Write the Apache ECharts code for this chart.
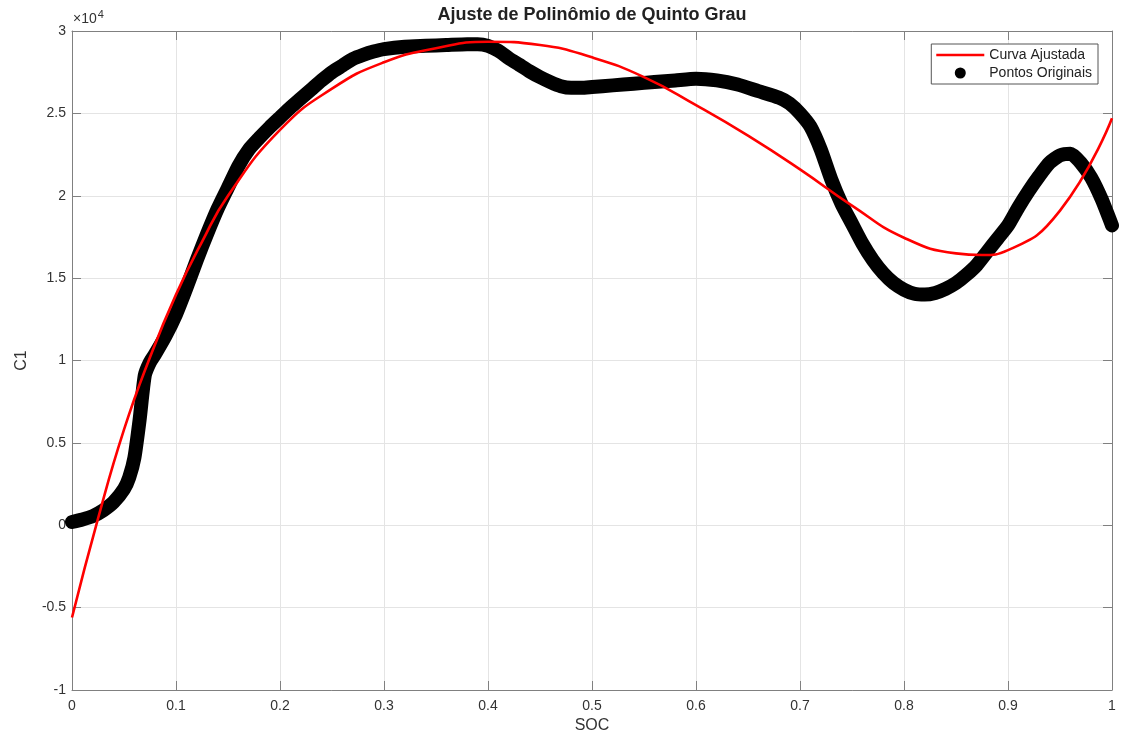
<!DOCTYPE html>
<html>
<head>
<meta charset="utf-8">
<title>Ajuste de Polinômio de Quinto Grau</title>
<script src="https://cdn.jsdelivr.net/npm/echarts@6/dist/echarts.min.js"></script>
<style>
  html, body { margin: 0; padding: 0; background: #fff; }
  #chart { width: 1122px; height: 739px; }
</style>
</head>
<body>
<div id="chart"></div>
<script>
// --- dados (C1 em unidades reais) ---
const socOrig = [0, 0.01, 0.02, 0.03, 0.04, 0.05, 0.055, 0.06, 0.065, 0.07, 0.075, 0.08, 0.09, 0.1,
  0.11, 0.12, 0.13, 0.14, 0.15, 0.16, 0.17, 0.18, 0.19, 0.2, 0.21, 0.22, 0.23, 0.24, 0.25, 0.26,
  0.27, 0.28, 0.29, 0.3, 0.32, 0.34, 0.36, 0.38, 0.39, 0.4, 0.41, 0.42, 0.43, 0.44, 0.45, 0.46,
  0.47, 0.48, 0.49, 0.5, 0.52, 0.54, 0.56, 0.58, 0.6, 0.62, 0.64, 0.66, 0.68, 0.69, 0.7, 0.71,
  0.72, 0.73, 0.74, 0.75, 0.76, 0.77, 0.78, 0.79, 0.8, 0.81, 0.82, 0.83, 0.84, 0.85, 0.86, 0.87,
  0.88, 0.89, 0.9, 0.91, 0.92, 0.93, 0.94, 0.95, 0.96, 0.97, 0.98, 0.99, 1.0];
const c1Orig = [200, 350, 550, 900, 1400, 2200, 2900, 4100, 6400, 9100, 9900, 10400, 11500, 12800,
  14400, 16100, 17700, 19200, 20500, 21800, 22800, 23500, 24150, 24750, 25350, 25900, 26450, 27000, 27500, 27900,
  28300, 28550, 28750, 28900, 29050, 29100, 29150, 29200, 29200, 29100, 28800, 28350, 27950, 27550, 27200, 26900,
  26650, 26550, 26550, 26600, 26700, 26800, 26900, 27000, 27100, 27000, 26750, 26350, 25950, 25600, 25000, 24200,
  22800, 21000, 19500, 18300, 17100, 16100, 15300, 14700, 14300, 14050, 14000, 14100, 14350, 14700, 15200, 15800,
  16600, 17400, 18200, 19300, 20300, 21200, 22000, 22450, 22550, 22000, 21100, 19800, 18200];

const socFit = [0, 0.025, 0.05, 0.075, 0.1, 0.125, 0.15, 0.2, 0.25, 0.3, 0.35, 0.4, 0.45, 0.5, 0.55, 0.6,
  0.65, 0.7, 0.75, 0.8, 0.85, 0.875, 0.9, 0.95, 1.0];
const c1Fit = [-5600, 400, 5800, 10200, 14000, 17200, 20000, 24000, 26500, 28100, 28950, 29350, 29150, 28400, 27200, 25500,
  23650, 21600, 19400, 17450, 16500, 16400, 16700, 19100, 24700];

const xTicks = [0, 0.1, 0.2, 0.3, 0.4, 0.5, 0.6, 0.7, 0.8, 0.9, 1];
const yTicks = [-10000, -5000, 0, 5000, 10000, 15000, 20000, 25000, 30000];

const chart = echarts.init(document.getElementById('chart'));

const axisGray = '#808080';
const gridGray = '#e4e4e4';
const labelColor = '#333';
const fontFam = '"Liberation Sans", Arial, sans-serif';

const baseX = {
  type: 'value', min: xTicks[0], max: xTicks[xTicks.length - 1], interval: 0.1,
  axisLine: { show: true, onZero: false, lineStyle: { color: axisGray, width: 1 } },
  axisTick: { show: true, inside: true, length: 9, lineStyle: { color: axisGray } }
};
const baseY = {
  type: 'value', min: yTicks[0], max: yTicks[yTicks.length - 1], interval: 5000,
  axisLine: { show: true, onZero: false, lineStyle: { color: axisGray, width: 1 } },
  axisTick: { show: true, inside: true, length: 9, lineStyle: { color: axisGray } }
};

const option = {
  backgroundColor: '#fff',
  animation: false,
  grid: { left: 72, right: 10, top: 31, bottom: 49 },
  legend: {
    orient: 'vertical', right: 24, top: 44,
    padding: [3, 6, 3, 5], itemGap: 2, itemWidth: 48, itemHeight: 11,
    backgroundColor: '#fff', borderColor: '#555', borderWidth: 1, borderRadius: 0,
    textStyle: { fontSize: 14, color: '#222', fontFamily: fontFam, lineHeight: 16 },
    data: [
      { name: 'Curva Ajustada', icon: 'path://M0,0 L48,0 L48,2.6 L0,2.6 Z' },
      { name: 'Pontos Originais', icon: 'circle' }
    ]
  },
  graphic: [
    {
      type: 'text', x: 592, y: 15,
      style: { text: 'Ajuste de Polinômio de Quinto Grau', font: 'bold 18px ' + fontFam,
        fill: '#222', align: 'center', verticalAlign: 'middle' }
    },
    {
      type: 'text', x: 73, y: 19,
      style: {
        text: '×10{s|4}', verticalAlign: 'middle', align: 'left',
        font: '14px ' + fontFam, fill: labelColor,
        rich: { s: { fontSize: 11, verticalAlign: 'top', padding: [0, 0, 8, 1], fill: labelColor } }
      }
    }
  ],
  xAxis: [
    Object.assign({}, baseX, {
      position: 'bottom',
      name: 'SOC', nameLocation: 'middle', nameGap: 28,
      nameTextStyle: { fontSize: 16, color: labelColor, fontFamily: fontFam },
      axisLabel: { fontSize: 14, color: labelColor, fontFamily: fontFam, margin: 9,
        formatter: v => String(parseFloat(v.toFixed(1))) },
      splitLine: { show: true, lineStyle: { color: gridGray, width: 1 } }
    }),
    Object.assign({}, baseX, {
      position: 'top', axisLabel: { show: false }, splitLine: { show: false }
    })
  ],
  yAxis: [
    Object.assign({}, baseY, {
      position: 'left',
      name: 'C1', nameLocation: 'middle', nameGap: 42,
      nameTextStyle: { fontSize: 16, color: labelColor, fontFamily: fontFam },
      axisLabel: { fontSize: 14, color: labelColor, fontFamily: fontFam, margin: 6,
        formatter: v => String(v / 10000) },
      splitLine: { show: true, lineStyle: { color: gridGray, width: 1 } }
    }),
    Object.assign({}, baseY, {
      position: 'right', axisLabel: { show: false }, splitLine: { show: false }
    })
  ],
  series: [
    {
      name: 'Pontos Originais', type: 'line', xAxisIndex: 0, yAxisIndex: 0,
      data: socOrig.map((x, i) => [x, c1Orig[i]]),
      smooth: 0.2, showSymbol: false, symbol: 'circle', z: 2,
      color: '#000',
      lineStyle: { color: '#000', width: 14, cap: 'round', join: 'round' }
    },
    {
      name: 'Curva Ajustada', type: 'line', xAxisIndex: 0, yAxisIndex: 0,
      data: socFit.map((x, i) => [x, c1Fit[i]]),
      smooth: 0.5, showSymbol: false, z: 3,
      color: '#ff0000',
      lineStyle: { color: '#ff0000', width: 2.6 }
    }
  ]
};

chart.setOption(option);

window.addEventListener('resize', () => chart.resize());
</script>
</body>
</html>
